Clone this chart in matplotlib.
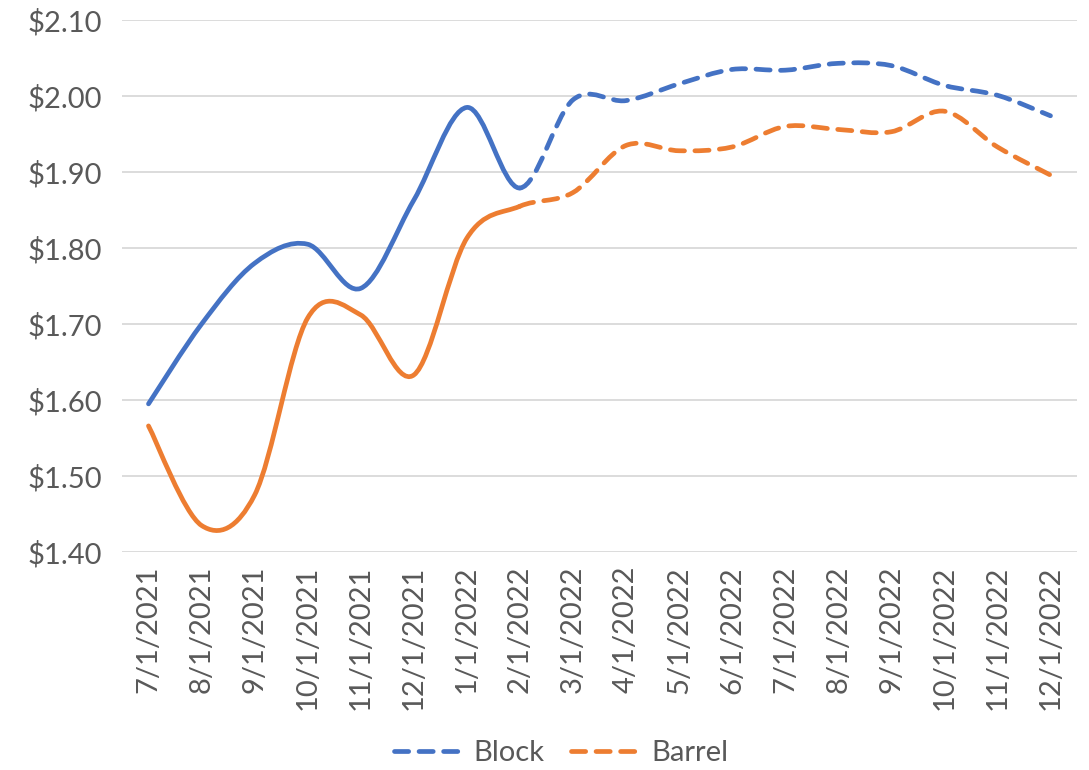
import matplotlib.pyplot as plt
import numpy as np
from matplotlib.path import Path
from matplotlib.patches import PathPatch
from matplotlib.lines import Line2D

dates = ['7/1/2021', '8/1/2021', '9/1/2021', '10/1/2021', '11/1/2021', '12/1/2021',
         '1/1/2022', '2/1/2022', '3/1/2022', '4/1/2022', '5/1/2022', '6/1/2022',
         '7/1/2022', '8/1/2022', '9/1/2022', '10/1/2022', '11/1/2022', '12/1/2022']
block = [1.595, 1.700, 1.780, 1.805, 1.747, 1.863, 1.985, 1.879, 1.995, 1.994,
         2.016, 2.035, 2.034, 2.043, 2.040, 2.014, 2.001, 1.974]
barrel = [1.566, 1.435, 1.475, 1.708, 1.712, 1.633, 1.813, 1.855, 1.873, 1.935,
          1.928, 1.933, 1.960, 1.956, 1.953, 1.980, 1.933, 1.896]
split = 7  # last actual month, forecast after this

blue = '#4472C4'
orange = '#ED7D31'
txt = '#595959'
dash = (0, (3.0, 2.2))

plt.rcParams['font.family'] = ['Lato', 'DejaVu Sans']


def smooth_path(xs, ys, i0, i1):
    # excel-like smoothed line: bezier segments through the points
    pts = np.column_stack([xs, ys])
    n = len(pts)
    verts = [pts[i0]]
    codes = [Path.MOVETO]
    for i in range(i0, i1):
        p0 = pts[max(i - 1, 0)]
        p1 = pts[i]
        p2 = pts[i + 1]
        p3 = pts[min(i + 2, n - 1)]
        c1 = p1 + (p2 - p0) / 6.0
        c2 = p2 - (p3 - p1) / 6.0
        verts += [c1, c2, p2]
        codes += [Path.CURVE4] * 3
    return Path(verts, codes)


fig = plt.figure(figsize=(10.89, 7.70), dpi=100)
ax = fig.add_axes([0.112, 0.283, 0.877, 0.691])

x = np.arange(len(dates))
for vals, col in [(block, blue), (barrel, orange)]:
    solid = PathPatch(smooth_path(x, vals, 0, split), fill=False, edgecolor=col,
                      lw=3.4, capstyle='round', joinstyle='round')
    ax.add_patch(solid)
    dashed = PathPatch(smooth_path(x, vals, split, len(dates) - 1), fill=False,
                       edgecolor=col, lw=3.4, linestyle=dash,
                       capstyle='round', joinstyle='round')
    ax.add_patch(dashed)

ax.set_xlim(-0.5, len(dates) - 0.5)
ax.set_ylim(1.40, 2.10)
ax.set_yticks(np.arange(1.40, 2.101, 0.10))
ax.set_yticklabels(['${:.2f}'.format(v) for v in np.arange(1.40, 2.101, 0.10)])
ax.set_xticks(x)
ax.set_xticklabels(dates, rotation=90)
ax.tick_params(length=0, colors=txt, labelsize=21)
ax.tick_params(axis='y', pad=14)
ax.tick_params(axis='x', pad=10)
ax.yaxis.grid(True, color='#d9d9d9', lw=1.3)
ax.set_axisbelow(True)
for s in ax.spines.values():
    s.set_visible(False)

handles = [Line2D([], [], color=blue, lw=3.4, linestyle=dash, dash_capstyle='round'),
           Line2D([], [], color=orange, lw=3.4, linestyle=dash, dash_capstyle='round')]
fig.legend(handles, ['Block', 'Barrel'], loc='center', bbox_to_anchor=(0.515, 0.022),
           ncol=2, frameon=False, fontsize=21, labelcolor=txt, handlelength=2.3,
           columnspacing=0.9, handletextpad=0.45)

plt.savefig('out.png')
